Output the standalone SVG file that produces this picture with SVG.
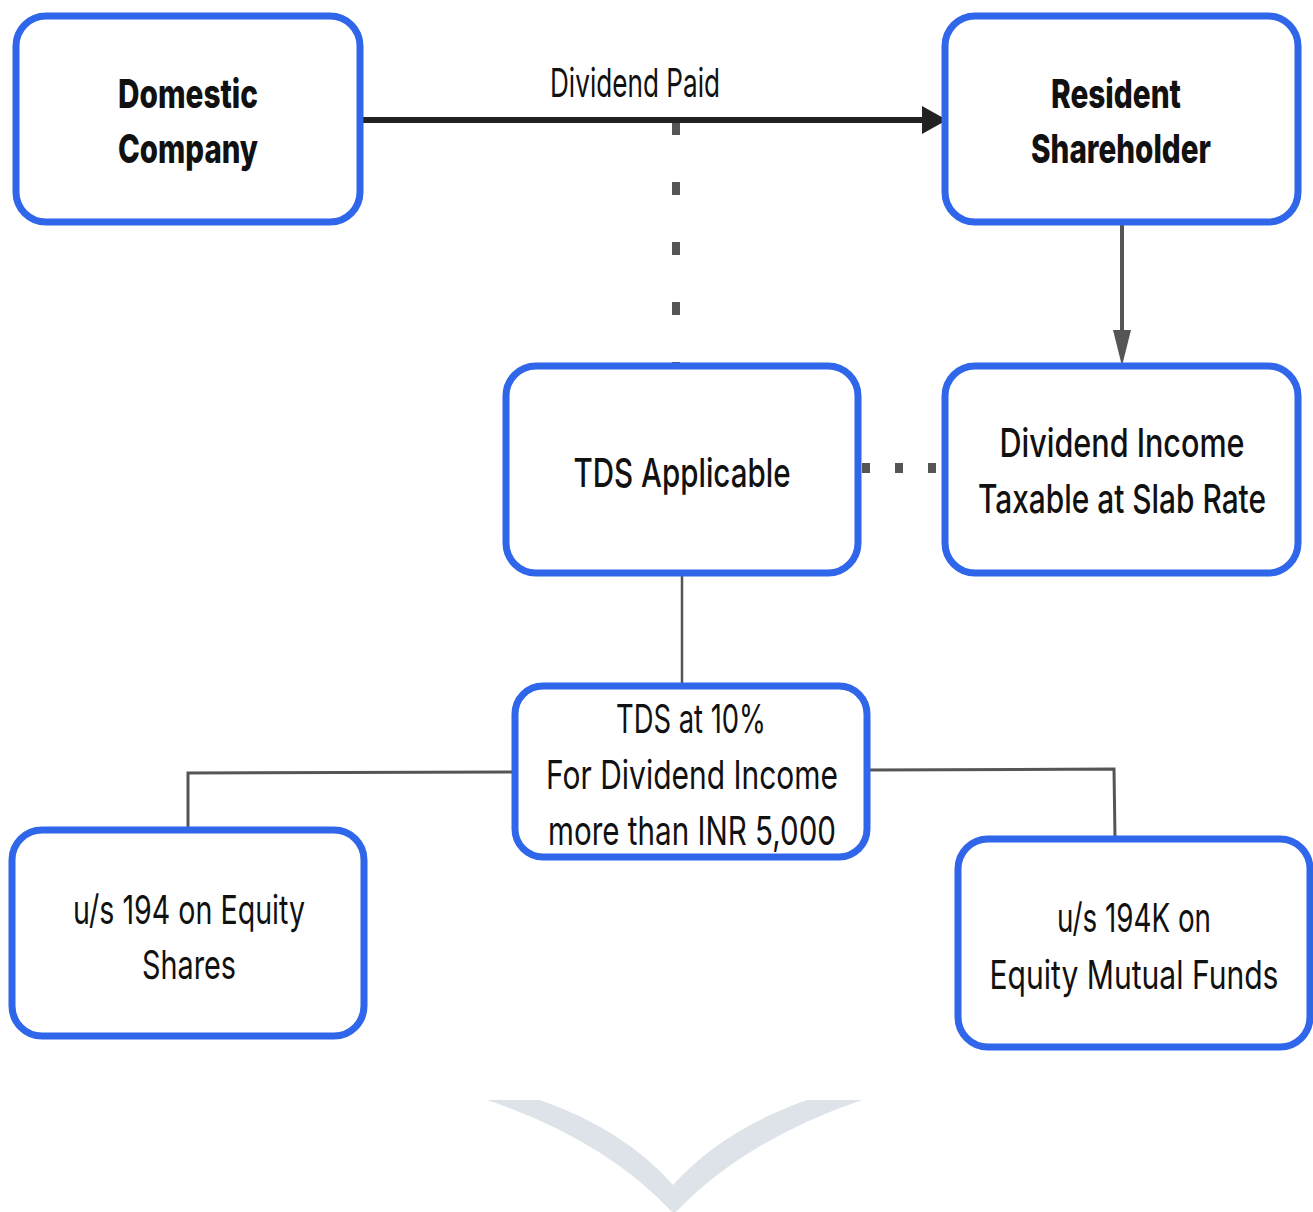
<svg xmlns="http://www.w3.org/2000/svg" width="1313" height="1212" viewBox="0 0 1313 1212">
<style>
.box{fill:#fff;stroke:#2f66ea;stroke-width:7}
.t{font-family:Inter,"Noto Sans","Liberation Sans",sans-serif;font-size:40px;fill:#111;text-anchor:middle}
.b{font-weight:800}
.m{font-weight:500}
.r{font-weight:400}
.ln{fill:none;stroke:#555;}
</style>
<path d="M487,1100 L540,1100 Q625,1130 673,1185 Q722,1130 807,1100 L862,1100 Q745,1140 676,1212 L672,1212 Q605,1140 487,1100 Z" fill="#dde3e8"/>
<g id="connectors">
<line x1="676" y1="122" x2="676" y2="364" stroke="#555" stroke-width="8" stroke-dasharray="13 47"/>
<line x1="862" y1="468" x2="940" y2="468" stroke="#555" stroke-width="10" stroke-dasharray="8 25"/>
<line x1="360" y1="120" x2="925" y2="120" stroke="#222" stroke-width="6"/>
<path d="M922,106 L947,120 L922,134 Z" fill="#222"/>
<line x1="1122" y1="222" x2="1122" y2="335" stroke="#555" stroke-width="4"/>
<path d="M1113,330 L1131,330 L1122,366 Z" fill="#555"/>
<line x1="682" y1="573" x2="682" y2="698" stroke="#555" stroke-width="2.5"/>
<polyline class="ln" stroke-width="3" points="515,772 188,773 188,830"/>
<polyline class="ln" stroke-width="3" points="867,770 1114,769 1115,838"/>
<text class="t r" x="635" y="97" font-size="42" textLength="170" lengthAdjust="spacingAndGlyphs">Dividend Paid</text>
</g>
<g id="domestic-company">
<rect class="box" x="16" y="16" width="344" height="206" rx="30"/>
<text class="t b" x="188" y="108" textLength="140" lengthAdjust="spacingAndGlyphs">Domestic</text>
<text class="t b" x="188" y="163" textLength="140" lengthAdjust="spacingAndGlyphs">Company</text>
</g>
<g id="resident-shareholder">
<rect class="box" x="945" y="16" width="353" height="206" rx="30"/>
<text class="t b" x="1116" y="108" textLength="130" lengthAdjust="spacingAndGlyphs">Resident</text>
<text class="t b" x="1121" y="163" textLength="180" lengthAdjust="spacingAndGlyphs">Shareholder</text>
</g>
<g id="tds-applicable">
<rect class="box" x="506" y="366" width="352" height="207" rx="30"/>
<text class="t m" x="682" y="487" font-size="45" textLength="217" lengthAdjust="spacingAndGlyphs">TDS Applicable</text>
</g>
<g id="dividend-income">
<rect class="box" x="945" y="366" width="353" height="207" rx="30"/>
<text class="t m" x="1122" y="457" font-size="37" textLength="245" lengthAdjust="spacingAndGlyphs">Dividend Income</text>
<text class="t m" x="1122" y="513" font-size="37" textLength="288" lengthAdjust="spacingAndGlyphs">Taxable at Slab Rate</text>
</g>
<g id="tds-10">
<rect class="box" x="515" y="686" width="352" height="171" rx="28"/>
<text class="t r" x="691" y="733" textLength="150" lengthAdjust="spacingAndGlyphs">TDS at 10%</text>
<text class="t r" x="692" y="789" textLength="292" lengthAdjust="spacingAndGlyphs">For Dividend Income</text>
<text class="t r" x="692" y="845" textLength="288" lengthAdjust="spacingAndGlyphs">more than INR 5,000</text>
</g>
<g id="us-194">
<rect class="box" x="12" y="830" width="352" height="206" rx="30"/>
<text class="t r" x="189" y="924" font-size="38" textLength="232" lengthAdjust="spacingAndGlyphs">u/s 194 on Equity</text>
<text class="t r" x="189" y="979" font-size="38" textLength="94" lengthAdjust="spacingAndGlyphs">Shares</text>
</g>
<g id="us-194k">
<rect class="box" x="958" y="839" width="352" height="208" rx="30"/>
<text class="t r" x="1134" y="932" font-size="38" textLength="154" lengthAdjust="spacingAndGlyphs">u/s 194K on</text>
<text class="t r" x="1134" y="989" font-size="37" textLength="289" lengthAdjust="spacingAndGlyphs">Equity Mutual Funds</text>
</g>
</svg>
